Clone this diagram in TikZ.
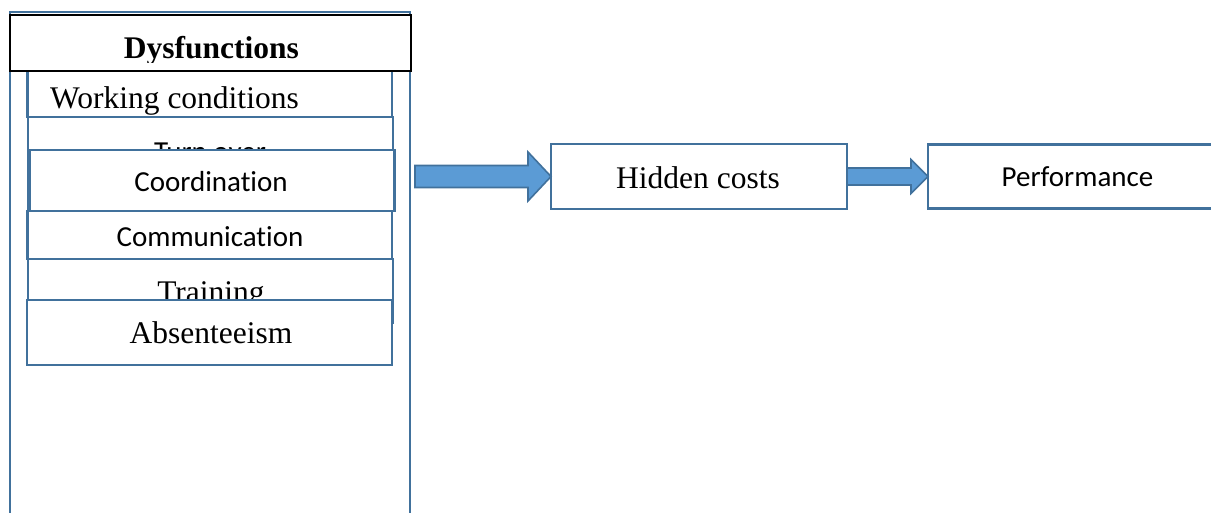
\documentclass[tikz,border=0pt]{standalone}
\usepackage{fontspec}
\setmainfont{Liberation Serif}
\newfontfamily\carlito[Ligatures=NoCommon]{Carlito}
\usepackage{tikz}
\usetikzlibrary{calc, positioning}
\definecolor{boxblue}{RGB}{65, 113, 156}
\definecolor{arrowblue}{RGB}{91, 155, 213}

\tikzset{
  itembox/.style={draw=boxblue, line width=2.2pt, fill=white, inner sep=0pt, outer sep=0pt, anchor=north west},
  serif/.style={font=\fontsize{31.5}{36}\selectfont, inner sep=0pt},
  sans/.style={font=\carlito\fontsize{29}{34}\selectfont, inner sep=0pt},
  arrowbody/.style={draw=boxblue, line width=1.6pt, fill=arrowblue, line join=miter}
}

% fat block arrow: tail, tip, shaft half width, head half width, head length
\newcommand{\blockarrow}[5]{%
  \draw[arrowbody] ($(#1)+(0,-#3)$) -- ($(#2)+(-#5,-#3)$) -- ($(#2)+(-#5,-#4)$) -- (#2)
    -- ($(#2)+(-#5,#4)$) -- ($(#2)+(-#5,#3)$) -- ($(#1)+(0,#3)$) -- cycle;
}

\begin{document}
\begin{tikzpicture}[x=1pt, y=-1pt]

  \clip (0,0) rectangle (1211,512);

  % column of dysfunctions
  \node[itembox, line width=2.5pt, minimum width=400, minimum height=530] (outer) at (10,12) {};

  \node[itembox, minimum width=364.5, minimum height=57] (work) at (27.5,60) {};
  \node[serif, anchor=base west] (worktxt) at (50,108) {Working conditions};

  \node[itembox, minimum width=365, minimum height=94] (turn) at (28,117) {};
  \node[sans, anchor=base] (turntxt) at (210,161) {Turn over};

  \node[itembox, minimum width=365, minimum height=61] (coord) at (29.5,150) {};
  \node[sans, anchor=base] (coordtxt) at (211,191) {Coordination};

  \node[itembox, minimum width=364.5, minimum height=48] (comm) at (27.5,211) {};
  \node[sans, anchor=base] (commtxt) at (210,246) {Communication};

  \node[itembox, minimum width=365, minimum height=64] (train) at (28,259) {};
  \node[serif, anchor=base] (traintxt) at (211,302) {Training};

  \node[itembox, minimum width=365, minimum height=65] (abs) at (27,300) {};
  \node[serif, anchor=base] (abstxt) at (211,343) {Absenteeism};

  % title bar
  \node[itembox, draw=black, line width=2.5pt, minimum width=401, minimum height=56] (head) at (10,15) {};
  \begin{scope}
    \clip (10,15) rectangle (411,62);
    \node[serif, font=\fontsize{31.5}{36}\selectfont\bfseries, anchor=base] (headtxt) at (211.5,58) {Dysfunctions};
  \end{scope}

  % right hand chain
  \node[itembox, minimum width=296, minimum height=65] (hidden) at (551,144) {};
  \node[serif, anchor=base] (hiddentxt) at (698,188) {Hidden costs};

  \node[itembox, minimum width=299, minimum height=64] (perf) at (928,144.5) {};
  \node[sans, anchor=base] (perftxt) at (1077.5,186) {Performance};

  \coordinate (dysout) at (415,176.5);
  \blockarrow{dysout}{hidden.west}{11}{24.5}{23}
  \blockarrow{hidden.east}{perf.west}{8.5}{17}{17}

\end{tikzpicture}
\end{document}
